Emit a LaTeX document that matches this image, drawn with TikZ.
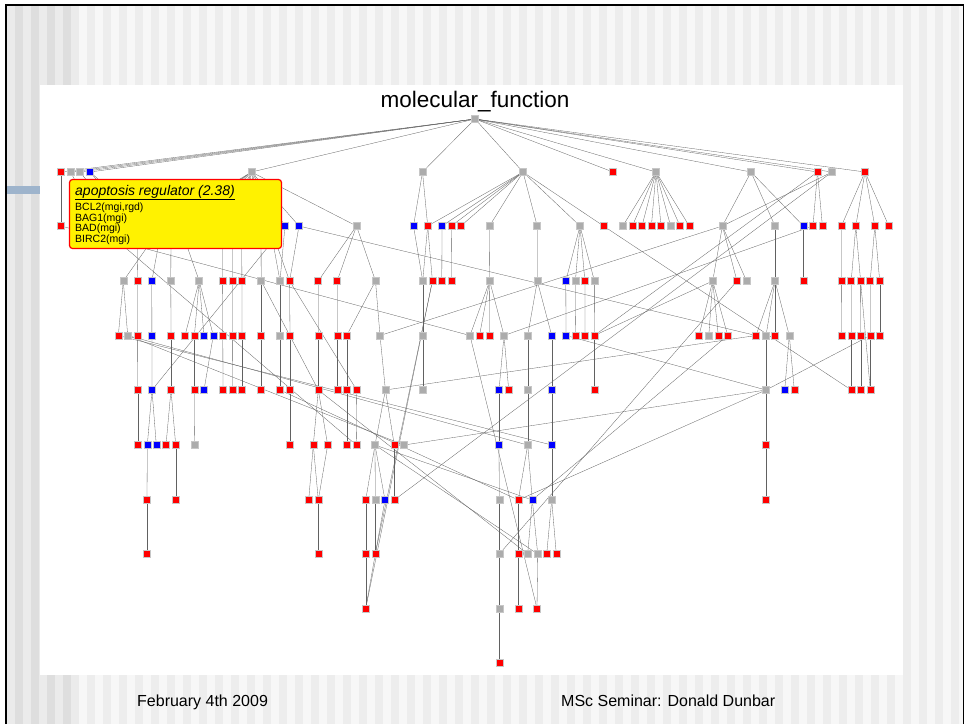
\documentclass[tikz,border=0pt]{standalone}
\usepackage{fontspec}
\setmainfont{Liberation Sans}
\pgfdeclarelayer{bglayer}
\pgfdeclarelayer{edgelayer}
\pgfsetlayers{bglayer,edgelayer,main}
\definecolor{barblue}{RGB}{158,180,204}
\definecolor{ngrey}{RGB}{172,172,172}
\newcommand{\mkn}[4]{\node[#4] (#1) at (#2,#3) {};}
\begin{document}
\begin{tikzpicture}[x=1pt,y=-1pt,
  nd/.style={rectangle, minimum size=7pt, inner sep=0pt, line width=0.5pt, draw=black!22},
  nr/.style={nd, fill=red},
  nb/.style={nd, fill=blue},
  ng/.style={nd, fill=ngrey},
  ed/.style={draw=black!62, line width=0.3pt},
  txt/.style={inner sep=0pt, anchor=base west}]
\useasboundingbox (0,0) rectangle (969,724);
\begin{pgfonlayer}{bglayer}
\fill[white] (0,0) rectangle (969,724);
\foreach \i in {0,...,8} {\pgfmathsetmacro\xa{7+8*\i}
  \ifodd\i \fill[black!13] (\xa,5) rectangle ++(8,719); \else \fill[black!8] (\xa,5) rectangle ++(8,719); \fi}
\foreach \i in {0,...,110} {\pgfmathsetmacro\xa{79+8*\i}
  \ifodd\i \fill[black!7] (\xa,5) rectangle ++(8,719); \else \fill[black!3] (\xa,5) rectangle ++(8,719); \fi}
\fill[white] (964,0) rectangle (969,724);
\fill[white] (40,85) rectangle (903,675);
\fill[barblue] (7,186) rectangle (40,194);
\draw[line width=1.5pt] (6,724) -- (6,5) -- (963.5,5) -- (963.5,724);
\end{pgfonlayer}
% title
\node[font=\fontsize{22.5}{27}\selectfont, anchor=base, inner sep=0pt] (title) at (475,107) {molecular\_function};
% root and row 1
\mkn{root}{475}{119}{ng}
\mkn{r1n61}{61}{172}{nr}\mkn{r1n70}{70.5}{172}{ng}\mkn{r1n80}{80}{172}{ng}\mkn{r1n90}{90}{172}{nb}
\mkn{r1n251}{251.5}{172}{ng}\mkn{r1n422}{422.5}{172}{ng}\mkn{r1n523}{523}{172}{ng}\mkn{r1n613}{613}{172}{nr}
\mkn{r1n656}{656}{172}{ng}\mkn{r1n751}{751}{172}{ng}\mkn{r1n817}{817.5}{172}{nr}\mkn{r1n832}{832}{172}{ng}
\mkn{r1n865}{865}{172}{nr}
% row 2
\mkn{r2n61}{61}{226}{nr}
\mkn{r2n100}{100}{226}{ng}\mkn{r2n123}{123}{226}{ng}\mkn{r2n137}{137}{226}{nr}\mkn{r2n152}{152}{226}{nb}
\mkn{r2n162}{162}{226}{ng}\mkn{r2n171}{171}{226}{ng}\mkn{r2n180}{180}{226}{ng}\mkn{r2n199}{199}{226}{ng}
\mkn{r2n222}{222.5}{226}{nr}\mkn{r2n232}{232.4}{226}{nr}\mkn{r2n242}{241.7}{226}{nr}\mkn{r2n261}{261}{226}{ng}
\mkn{r2n270}{270}{226}{ng}
\mkn{r2n285}{285}{226}{nb}\mkn{r2n299}{299}{226}{nb}\mkn{r2n356}{356.5}{226}{ng}
\mkn{r2n413}{413.5}{226}{nb}\mkn{r2n428}{427.7}{226}{nr}\mkn{r2n442}{442}{226}{nb}\mkn{r2n451}{451.3}{226}{nr}
\mkn{r2n461}{460.8}{226}{nr}\mkn{r2n489}{489.5}{226}{ng}\mkn{r2n537}{537.2}{226}{ng}\mkn{r2n580}{580}{226}{ng}
\mkn{r2n603}{603.5}{226}{nr}
\mkn{r2n623}{622.8}{226}{ng}\mkn{r2n632}{632.3}{226}{nr}\mkn{r2n642}{642}{226}{nr}\mkn{r2n651}{651.4}{226}{nr}
\mkn{r2n661}{661}{226}{nr}\mkn{r2n671}{670.6}{226}{ng}\mkn{r2n680}{680}{226}{nr}\mkn{r2n689}{689.3}{226}{nr}
\mkn{r2n722}{722.4}{226}{ng}\mkn{r2n775}{775}{226}{ng}\mkn{r2n803}{803.4}{226}{nb}\mkn{r2n813}{813}{226}{nr}
\mkn{r2n822}{822.4}{226}{nr}\mkn{r2n841}{841.4}{226}{nr}\mkn{r2n856}{855.8}{226}{nr}\mkn{r2n874}{874.8}{226}{nr}
\mkn{r2n889}{888.8}{226}{nr}
% row 3
\mkn{r3n123}{123.3}{281}{ng}\mkn{r3n137}{137.5}{281}{nr}\mkn{r3n152}{151.8}{281}{nb}\mkn{r3n171}{170.8}{281}{ng}
\mkn{r3n199}{199.2}{281}{ng}\mkn{r3n222}{222.6}{281}{nr}\mkn{r3n232}{232.5}{281}{nr}\mkn{r3n242}{241.9}{281}{nr}
\mkn{r3n261}{261.2}{281}{ng}\mkn{r3n280}{280}{281}{ng}\mkn{r3n289}{289.6}{281}{nr}\mkn{r3n318}{318.2}{281}{nr}
\mkn{r3n337}{337.2}{281}{nr}\mkn{r3n375}{375.5}{281}{ng}\mkn{r3n422}{422.7}{281}{ng}\mkn{r3n432}{432.4}{281}{nr}
\mkn{r3n441}{441.8}{281}{nr}\mkn{r3n451}{451.5}{281}{nr}\mkn{r3n489}{489.7}{281}{ng}\mkn{r3n537}{537.3}{281}{ng}
\mkn{r3n565}{565.8}{281}{nb}\mkn{r3n575}{575.4}{281}{ng}\mkn{r3n585}{584.9}{281}{nr}\mkn{r3n594}{594.4}{281}{ng}
\mkn{r3n712}{712.7}{281}{ng}\mkn{r3n737}{737}{281}{nr}\mkn{r3n746}{746.5}{281}{ng}\mkn{r3n775}{775}{281}{ng}
\mkn{r3n803}{803.4}{281}{nr}\mkn{r3n841}{841.6}{281}{nr}\mkn{r3n851}{851.2}{281}{nr}\mkn{r3n860}{860.6}{281}{nr}
\mkn{r3n870}{870.2}{281}{nr}\mkn{r3n879}{879.7}{281}{nr}
% row 4
\mkn{r4n118}{118.3}{335.5}{nr}\mkn{r4n128}{127.7}{335.5}{ng}\mkn{r4n137}{137.6}{335.5}{nr}\mkn{r4n152}{151.9}{335.5}{nb}
\mkn{r4n171}{171}{335.5}{nr}\mkn{r4n185}{185}{335.5}{nr}\mkn{r4n194}{194.4}{335.5}{nr}\mkn{r4n204}{204}{335.5}{nb}
\mkn{r4n213}{213.3}{335.5}{nb}\mkn{r4n222}{222.8}{335.5}{nr}\mkn{r4n232}{232.6}{335.5}{nr}\mkn{r4n242}{242}{335.5}{nr}
\mkn{r4n261}{261.2}{335.5}{nr}\mkn{r4n280}{280}{335.5}{ng}\mkn{r4n289}{290}{335.5}{nr}\mkn{r4n318}{318.3}{335.5}{nr}
\mkn{r4n337}{337.3}{335.5}{nr}\mkn{r4n346}{346.7}{335.5}{nr}\mkn{r4n380}{380}{335.5}{ng}\mkn{r4n422}{422.7}{335.5}{ng}
\mkn{r4n470}{470}{335.5}{ng}\mkn{r4n479}{479.5}{335.5}{nr}\mkn{r4n489}{489.4}{335.5}{nr}\mkn{r4n504}{504}{335.5}{ng}
\mkn{r4n528}{527.7}{335.5}{ng}\mkn{r4n552}{551.7}{335.5}{nb}\mkn{r4n566}{566}{335.5}{nb}\mkn{r4n575}{575.7}{335.5}{nr}
\mkn{r4n585}{585}{335.5}{nr}\mkn{r4n594}{594.3}{335.5}{nr}\mkn{r4n699}{699}{335.5}{nr}\mkn{r4n709}{708.8}{335.5}{ng}
\mkn{r4n718}{718.3}{335.5}{nr}\mkn{r4n727}{727.7}{335.5}{nr}\mkn{r4n756}{756}{335.5}{nr}\mkn{r4n766}{766}{335.5}{ng}
\mkn{r4n775}{775}{335.5}{nr}\mkn{r4n789}{789.3}{335.5}{ng}\mkn{r4n841}{841.7}{335.5}{nr}\mkn{r4n851}{851.3}{335.5}{nr}
\mkn{r4n860}{860.7}{335.5}{nr}\mkn{r4n870}{870.3}{335.5}{nr}\mkn{r4n879}{879.7}{335.5}{nr}
% row 5
\mkn{r5n137}{137.7}{390}{nr}\mkn{r5n152}{152}{390}{nb}\mkn{r5n171}{171}{390}{nr}\mkn{r5n194}{194.4}{390}{nr}
\mkn{r5n204}{204}{390}{nb}\mkn{r5n222}{223}{390}{nr}\mkn{r5n232}{232.7}{390}{nr}\mkn{r5n242}{242}{390}{nr}
\mkn{r5n261}{261.2}{390}{nr}\mkn{r5n280}{280}{390}{nr}\mkn{r5n289}{290}{390}{nr}\mkn{r5n318}{318.3}{390}{nr}
\mkn{r5n337}{337.3}{390}{nr}\mkn{r5n346}{346.7}{390}{nr}\mkn{r5n356}{356.7}{390}{nr}\mkn{r5n385}{385.4}{390}{ng}
\mkn{r5n422}{422.7}{390}{ng}\mkn{r5n499}{499}{390}{nb}\mkn{r5n508}{508.7}{390}{nr}\mkn{r5n528}{527.7}{390}{ng}
\mkn{r5n552}{551.7}{390}{nb}\mkn{r5n594}{594.3}{390}{nr}\mkn{r5n766}{766}{390}{ng}\mkn{r5n784}{784.7}{390}{nb}
\mkn{r5n794}{794.3}{390}{nr}\mkn{r5n851}{851.3}{390}{nr}\mkn{r5n860}{860.7}{390}{nr}\mkn{r5n870}{870.3}{390}{nr}
% row 6
\mkn{r6n137}{137.7}{445}{nr}\mkn{r6n147}{147.3}{445}{nb}\mkn{r6n156}{156.3}{445}{nb}\mkn{r6n166}{166}{445}{nr}
\mkn{r6n175}{175.7}{445}{nr}\mkn{r6n194}{194.7}{445}{ng}\mkn{r6n290}{290}{445}{nr}\mkn{r6n313}{313.3}{445}{nr}
\mkn{r6n328}{327.7}{445}{nr}\mkn{r6n346}{346.7}{445}{nr}\mkn{r6n356}{356.3}{445}{nr}\mkn{r6n375}{375}{445}{ng}
\mkn{r6n394}{394.3}{445}{nr}\mkn{r6n404}{404}{445}{ng}\mkn{r6n499}{499}{445}{nb}\mkn{r6n528}{527.7}{445}{ng}
\mkn{r6n552}{551.7}{445}{nb}\mkn{r6n766}{766}{445}{nr}
% row 7
\mkn{r7n147}{147}{500}{nr}\mkn{r7n175}{175.7}{500}{nr}\mkn{r7n308}{308.7}{500}{nr}\mkn{r7n318}{318.3}{500}{nr}
\mkn{r7n366}{365.7}{500}{nr}\mkn{r7n375}{375.3}{500}{ng}\mkn{r7n385}{385}{500}{nb}\mkn{r7n394}{394.3}{500}{nr}
\mkn{r7n499}{499.3}{500}{ng}\mkn{r7n518}{518.3}{500}{nr}\mkn{r7n532}{532.3}{500}{nb}\mkn{r7n552}{551.7}{500}{ng}
\mkn{r7n766}{766}{500}{nr}
% row 8
\mkn{r8n147}{147}{554}{nr}\mkn{r8n318}{318.3}{554}{nr}\mkn{r8n366}{365.7}{554}{nr}\mkn{r8n375}{375.3}{554}{nr}
\mkn{r8n499}{499.3}{554}{ng}\mkn{r8n518}{518.3}{554}{nr}\mkn{r8n528}{527.7}{554}{ng}\mkn{r8n538}{537.7}{554}{ng}
\mkn{r8n547}{546.7}{554}{nr}\mkn{r8n556}{556.3}{554}{nr}
% rows 9 and 10
\mkn{r9n366}{365.7}{608.5}{nr}\mkn{r9n499}{499.3}{608.5}{ng}\mkn{r9n518}{518.3}{608.5}{nr}\mkn{r9n537}{537}{608.5}{nr}
\mkn{r10n499}{499.3}{663}{nr}
% edges
\begin{pgfonlayer}{edgelayer}
\foreach \a/\b in {root/r1n61, root/r1n70, root/r1n80, root/r1n90, root/r1n251, root/r1n422, root/r1n523, root/r1n613, root/r1n656, root/r1n751, root/r1n817, root/r1n832, root/r1n865,
r1n61/r2n61, r1n70/r2n100, r1n80/r2n123, r1n90/r2n137, r1n90/r2n152,
r1n251/r2n162, r1n251/r2n171, r1n251/r2n180, r1n251/r2n199, r1n251/r2n222, r1n251/r2n232, r1n251/r2n242, r1n251/r2n261, r1n251/r2n270, r1n251/r2n285, r1n251/r2n299, r1n251/r2n356,
r1n422/r2n413, r1n422/r2n428,
r1n523/r2n428, r1n523/r2n442, r1n523/r2n451, r1n523/r2n461, r1n523/r2n489, r1n523/r2n537, r1n523/r2n580, r1n523/r2n603,
r1n656/r2n623, r1n656/r2n632, r1n656/r2n642, r1n656/r2n651, r1n656/r2n661, r1n656/r2n671, r1n656/r2n680, r1n656/r2n689,
r1n751/r2n722, r1n751/r2n775, r1n751/r2n803, r1n817/r2n813, r1n817/r2n822, r1n832/r2n722,
r1n865/r2n841, r1n865/r2n856, r1n865/r2n874, r1n865/r2n889,
r2n162/r3n123, r2n162/r3n152, r2n137/r3n137, r2n171/r3n171, r2n180/r3n199, r2n222/r3n222, r2n232/r3n232, r2n242/r3n242, r2n261/r3n261, r2n270/r3n280, r2n270/r3n289, r2n100/r6n356,
r2n285/r5n152, r2n285/r3n280, r2n299/r3n289, r2n299/r4n756,
r2n356/r3n318, r2n356/r3n337, r2n356/r3n375,
r2n413/r3n422, r2n428/r3n432, r2n428/r3n422, r2n442/r3n441, r2n451/r3n451,
r2n489/r3n489, r2n537/r3n537, r2n580/r3n565, r2n580/r3n575, r2n580/r3n585, r2n580/r3n594,
r2n603/r5n851,
r2n722/r3n712, r2n722/r3n737, r2n722/r3n746, r2n775/r3n775, r2n803/r3n803, r2n813/r4n504,
r2n841/r3n841, r2n856/r3n851, r2n856/r3n860, r2n874/r3n870, r2n874/r3n879,
r2n61/r4n470,
r3n123/r4n118, r3n123/r4n128, r3n137/r4n137, r3n152/r4n152, r3n171/r4n171, r3n199/r4n185, r3n199/r4n194, r3n199/r4n204, r3n199/r4n213, r3n222/r4n222, r3n232/r4n232, r3n242/r4n242, r3n261/r4n261, r3n261/r5n318, r3n280/r4n280, r3n289/r4n289, r3n289/r5n356, r3n318/r4n318, r3n337/r4n337, r3n375/r4n346, r3n375/r4n380, r3n422/r4n422, r3n432/r9n366, r3n432/r8n375, r3n489/r4n470, r3n489/r4n479, r3n489/r4n489, r3n489/r4n504, r3n537/r4n528, r3n537/r4n552, r3n565/r4n566, r3n575/r4n575, r3n585/r4n585, r3n594/r4n594, r3n712/r4n699, r3n712/r4n709, r3n712/r4n718, r3n712/r4n727, r3n712/r4n594, r3n737/r8n499, r3n775/r4n756, r3n775/r4n766, r3n775/r4n775, r3n775/r4n789, r3n841/r4n841, r3n851/r4n851, r3n860/r4n860, r3n860/r5n870, r3n870/r4n870, r3n879/r4n879,
r4n137/r5n137, r4n152/r5n152, r4n171/r5n171, r4n194/r5n194, r4n213/r5n204, r4n222/r5n222, r4n232/r5n232, r4n242/r5n242, r4n261/r5n261, r4n280/r5n280, r4n289/r5n289, r4n318/r5n318, r4n337/r5n337, r4n346/r5n346, r4n380/r5n385, r4n422/r5n422, r4n504/r5n499, r4n504/r5n508, r4n528/r5n528, r4n552/r5n552, r4n594/r5n594, r4n766/r5n766, r4n789/r5n784, r4n789/r5n794, r4n851/r5n851, r4n860/r5n860, r4n870/r5n766, r4n870/r5n870, r4n566/r5n766, r4n594/r1n817, r4n380/r2n722, r4n128/r6n528, r4n118/r6n552, r4n128/r6n404, r4n470/r9n537, r4n727/r7n532,
r5n137/r6n137, r5n152/r6n147, r5n152/r6n156, r5n171/r6n166, r5n171/r6n175, r5n194/r6n194, r5n289/r6n290, r5n318/r6n313, r5n318/r6n328, r5n346/r6n346, r5n356/r6n356, r5n385/r6n375, r5n385/r6n394, r5n385/r4n756, r5n499/r6n499, r5n528/r6n528, r5n552/r6n552, r5n766/r6n766, r5n280/r7n518, r5n318/r8n528,
r6n147/r7n147, r6n175/r7n175, r6n313/r7n308, r6n313/r7n318, r6n328/r7n318, r6n375/r7n366, r6n375/r7n375, r6n375/r7n385, r6n375/r7n532, r6n375/r8n538, r6n394/r7n394, r6n404/r5n766, r6n499/r7n499, r6n528/r7n518, r6n528/r7n532, r6n552/r7n552, r6n766/r7n766,
r7n147/r8n147, r7n318/r8n318, r7n366/r8n366, r7n375/r8n375, r7n385/r8n375, r7n499/r8n499, r7n518/r8n518, r7n532/r8n528, r7n532/r8n538, r7n552/r8n547, r7n552/r8n556, r7n518/r5n766, r7n394/r1n832,
r8n366/r9n366, r8n375/r9n366, r8n499/r9n499, r8n518/r9n518, r8n538/r9n537,
r9n499/r10n499}
  {\draw[ed] (\a) -- (\b);}
\end{pgfonlayer}
% tooltip
\node[draw=red, fill=yellow, line width=1.2pt, rounded corners=3pt, minimum width=212pt, minimum height=69pt, inner sep=0pt] (tip) at (175.5,214) {};
\node[txt, font=\fontsize{14}{16}\selectfont\itshape] (tiptitle) at (75,195) {\underline{apoptosis regulator (2.38)}};
\node[txt, font=\fontsize{10.5}{12}\selectfont] (g1) at (75,210.5) {BCL2(mgi,rgd)};
\node[txt, font=\fontsize{10.5}{12}\selectfont] (g2) at (75,221) {BAG1(mgi)};
\node[txt, font=\fontsize{10.5}{12}\selectfont] (g3) at (75,231.5) {BAD(mgi)};
\node[txt, font=\fontsize{10.5}{12}\selectfont] (g4) at (75,242) {BIRC2(mgi)};
% footer
\node[txt, font=\fontsize{16}{19}\selectfont] (date) at (137,706) {February 4th 2009};
\node[txt, font=\fontsize{16}{19}\selectfont] (seminar) at (561,706) {MSc Seminar: Donald Dunbar};
\end{tikzpicture}
\end{document}
